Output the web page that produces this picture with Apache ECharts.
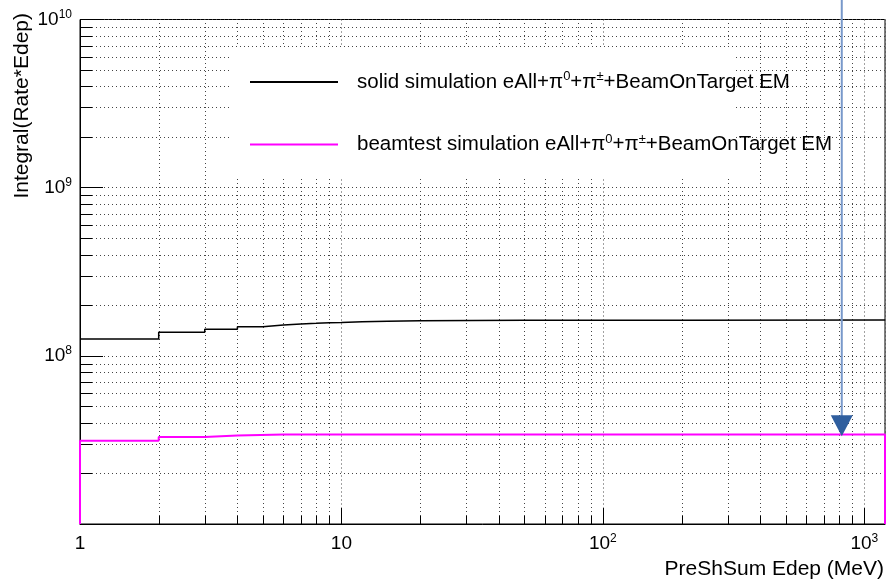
<!DOCTYPE html>
<html>
<head>
<meta charset="utf-8">
<title>PreShSum Edep</title>
<script src="https://cdn.jsdelivr.net/npm/echarts@6/dist/echarts.min.js"></script>
<style>
  html, body { margin: 0; padding: 0; background: #fff; }
  #main { width: 888px; height: 579px; }
</style>
</head>
<body>
<div id="main"></div>
<script type="text/javascript">
// axis range
var xMin = 1, xMax = 1200;
var yMin = 1e7, yMax = 1e10;

// minor grid positions (2..9 per decade)
var xMinor = [2, 3, 4, 5, 6, 7, 8, 9,
              20, 30, 40, 50, 60, 70, 80, 90,
              200, 300, 400, 500, 600, 700, 800, 900];
var yMinor = [2e7, 3e7, 4e7, 5e7, 6e7, 7e7, 8e7, 9e7,
              2e8, 3e8, 4e8, 5e8, 6e8, 7e8, 8e8, 9e8,
              2e9, 3e9, 4e9, 5e9, 6e9, 7e9, 8e9, 9e9];

// solid simulation, cumulative histogram (bin low edge -> value)
var solidX = [1, 2, 3, 4, 5, 6, 7, 8, 9, 10, 12, 15, 20, 50, 200, 1200];
var solidY = [1.26e8, 1.38e8, 1.44e8, 1.49e8, 1.525e8, 1.546e8, 1.56e8, 1.575e8,
              1.58e8, 1.596e8, 1.605e8, 1.615e8, 1.625e8, 1.63e8, 1.633e8, 1.633e8];

// beamtest simulation (starts and ends on the bottom of the frame)
var beamX = [1, 1, 2, 3, 4, 6, 10, 30, 1200, 1200];
var beamY = [1e7, 3.13e7, 3.29e7, 3.36e7, 3.40e7, 3.40e7, 3.41e7, 3.41e7, 3.41e7, 1e7];

// arrow annotation (x position and tip value)
var arrowX = [820];
var arrowTip = [3.33e7];

var names = {
    solid: 'solid simulation eAll+π0+π±+BeamOnTarget EM',
    beam: 'beamtest simulation eAll+π0+π±+BeamOnTarget EM'
};
var legendRich = {
    solid: '{g|}{t|solid simulation eAll+π}{s|0}{t|+π}{s|±}{t|+BeamOnTarget EM}',
    beam: '{g|}{t|beamtest simulation eAll+π}{s|0}{t|+π}{s|±}{t|+BeamOnTarget EM}'
};

var font = '"Liberation Sans", Arial, Helvetica, sans-serif';

function zip(xs, ys) {
    return xs.map(function (x, i) { return [x, ys[i]]; });
}

function decade(v) {
    var l = Math.log10(v);
    var e = Math.round(l);
    if (Math.abs(l - e) > 1e-6) return null;
    return e;
}

var labelRich = {
    b: { fontSize: 19, lineHeight: 22, fontFamily: font, color: '#000' },
    s: { fontSize: 12, lineHeight: 12, fontFamily: font, color: '#000', verticalAlign: 'top' }
};

function px(v) { return Math.round(v) + 0.5; }

// vertical dotted grid line + short tick from bottom
function renderXMinor(params, api) {
    var b = api.coord([api.value(0), yMin]);
    var t = api.coord([api.value(0), yMax]);
    var x = px(b[0]);
    return {
        type: 'group',
        children: [
            { type: 'line', shape: { x1: x, y1: b[1], x2: x, y2: t[1] },
              style: { stroke: '#444', lineWidth: 1, lineDash: [1, 3] } },
            { type: 'line', shape: { x1: x, y1: b[1], x2: x, y2: b[1] - 8 },
              style: { stroke: '#000', lineWidth: 1 } }
        ]
    };
}

// horizontal dotted grid line + short tick from left
function renderYMinor(params, api) {
    var l = api.coord([xMin, api.value(1)]);
    var r = api.coord([xMax, api.value(1)]);
    var y = px(l[1]);
    return {
        type: 'group',
        children: [
            { type: 'line', shape: { x1: l[0], y1: y, x2: r[0], y2: y },
              style: { stroke: '#444', lineWidth: 1, lineDash: [1, 3] } },
            { type: 'line', shape: { x1: l[0], y1: y, x2: l[0] + 12, y2: y },
              style: { stroke: '#000', lineWidth: 1 } }
        ]
    };
}

// blue arrow coming down from the top edge, tip at the data point
function renderArrow(params, api) {
    var p = api.coord([api.value(0), api.value(1)]);
    var x = p[0];
    return {
        type: 'group',
        children: [
            { type: 'line', shape: { x1: x, y1: 0, x2: x, y2: p[1] - 12 },
              style: { stroke: '#7898ca', lineWidth: 2 } },
            { type: 'polygon', shape: { points: [[x - 11, p[1] - 21], [x + 11, p[1] - 21], [x, p[1]]] },
              style: { fill: '#2f5e9e' } }
        ]
    };
}

var myChart = echarts.init(document.getElementById('main'), null, { renderer: 'canvas' });

var option = {
    backgroundColor: '#fff',
    animation: false,
    grid: {
        left: 80, right: 2, top: 19.5, bottom: 55,
        show: true, borderColor: '#000', borderWidth: 1, backgroundColor: 'transparent'
    },
    legend: {
        orient: 'vertical',
        left: 250, top: 70,
        padding: 0,
        itemGap: 40,
        itemWidth: 88,
        itemHeight: 2,
        icon: 'rect',
        z: 4,
        data: [names.solid, names.beam],
        formatter: function (name) {
            return name === names.solid ? legendRich.solid : legendRich.beam;
        },
        textStyle: {
            rich: {
                g: { width: 14 },
                t: { fontSize: 20.5, lineHeight: 24, fontFamily: font, color: '#000' },
                s: { fontSize: 13, lineHeight: 12, fontFamily: font, color: '#000', verticalAlign: 'top' }
            }
        }
    },
    graphic: [
        {   // legend box (white, no border)
            type: 'rect', x: 230, y: 47, z: 3,
            shape: { width: 503, height: 131 },
            style: { fill: '#fff' }
        },
        {
            type: 'text', x: 22, y: 13, rotation: Math.PI / 2, z: 10,
            style: {
                text: 'Integral(Rate*Edep)', fill: '#000',
                font: '21px ' + font, align: 'right', verticalAlign: 'middle'
            }
        },
        {
            type: 'text', x: 884, y: 569, z: 10,
            style: {
                text: 'PreShSum Edep (MeV)', fill: '#000',
                font: '21px ' + font, align: 'right', verticalAlign: 'middle'
            }
        }
    ],
    xAxis: {
        type: 'log', logBase: 10, min: xMin, max: xMax,
        axisLine: { show: true, lineStyle: { color: '#000', width: 1 } },
        axisTick: { show: true, inside: true, length: 16, lineStyle: { color: '#000' } },
        axisLabel: {
            margin: 9,
            formatter: function (v) {
                var e = decade(v);
                if (e === null) return '';
                if (e === 0) return '{b|1}';
                if (e === 1) return '{b|10}';
                return '{b|10}{s|' + e + '}';
            },
            rich: labelRich
        },
        splitLine: { show: true, lineStyle: { color: '#444', width: 1, type: [1, 3] } }
    },
    yAxis: {
        type: 'log', logBase: 10, min: yMin, max: yMax,
        axisLine: { show: true, lineStyle: { color: '#000', width: 1 } },
        axisTick: { show: true, inside: true, length: 23, lineStyle: { color: '#000' } },
        axisLabel: {
            margin: 8,
            formatter: function (v) {
                var e = decade(v);
                if (e === null || e === 7) return '';
                return '{b|10}{s|' + e + '}';
            },
            rich: labelRich
        },
        splitLine: { show: true, lineStyle: { color: '#444', width: 1, type: [1, 3] } }
    },
    series: [
        {
            type: 'custom', name: 'xgrid', z: 1, silent: true,
            renderItem: renderXMinor,
            encode: { x: 0, y: 1 },
            data: xMinor.map(function (v) { return [v, yMin]; })
        },
        {
            type: 'custom', name: 'ygrid', z: 1, silent: true,
            renderItem: renderYMinor,
            encode: { x: 0, y: 1 },
            data: yMinor.map(function (v) { return [xMin, v]; })
        },
        {
            name: names.solid,
            type: 'line',
            step: 'end',
            symbol: 'none',
            clip: false,
            z: 5,
            color: '#000',
            lineStyle: { color: '#000', width: 1.5 },
            data: zip(solidX, solidY)
        },
        {
            name: names.beam,
            type: 'line',
            step: 'end',
            symbol: 'none',
            clip: false,
            z: 5,
            color: '#ff00ff',
            lineStyle: { color: '#ff00ff', width: 2 },
            data: zip(beamX, beamY)
        },
        {
            type: 'custom', name: 'arrow', z: 6, silent: true, clip: false,
            renderItem: renderArrow,
            encode: { x: 0, y: 1 },
            data: zip(arrowX, arrowTip)
        }
    ]
};

myChart.setOption(option);
</script>
</body>
</html>
